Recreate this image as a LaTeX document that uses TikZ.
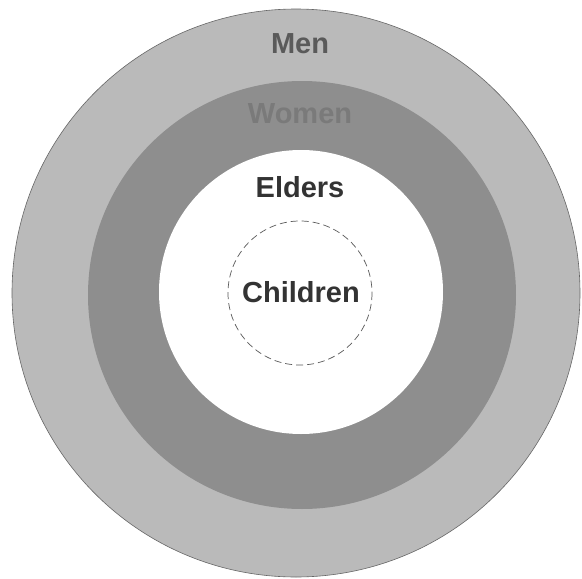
\documentclass[tikz,border=0pt]{standalone}
\usepackage{fontspec}
\setmainfont{Liberation Sans}
\usetikzlibrary{positioning}
\definecolor{menring}{HTML}{BABABA}
\definecolor{womenring}{HTML}{8E8E8E}
\definecolor{womentext}{HTML}{7A7A7A}
\definecolor{mentext}{HTML}{5A5A5A}
\definecolor{labeltext}{HTML}{333333}

\begin{document}
\begin{tikzpicture}[x=1pt,y=-1pt,font=\fontsize{29}{32}\selectfont\bfseries]
\useasboundingbox (0,0) rectangle (582,579);
\fill[menring,draw=gray!80!black,line width=0.6pt] (296,293) circle (284);
\fill[womenring] (302,295) circle (214);
\fill[white] (301,292) circle (142);
\draw[gray!70!black,dash pattern=on 7pt off 4pt,line width=0.7pt] (300,293) circle (72);
\node[anchor=base,text=mentext] (men) at (300,53) {Men};
\node[anchor=base,text=womentext] (women) at (300,123) {Women};
\node[anchor=base,text=labeltext] (elders) at (300,197) {Elders};
\node[anchor=base,text=labeltext] (children) at (301,302) {Children};
\end{tikzpicture}
\end{document}
